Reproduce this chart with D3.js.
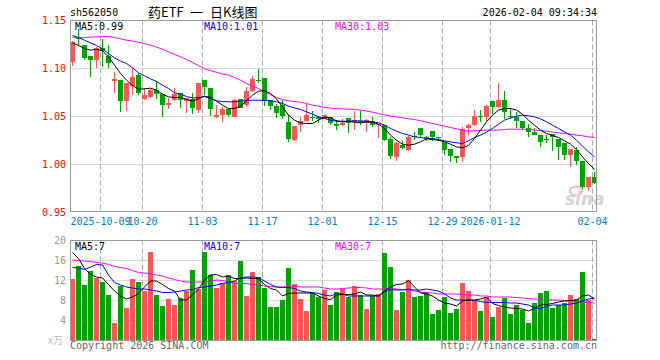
<!DOCTYPE html>
<html>
<head>
<meta charset="utf-8">
<script src="https://cdn.jsdelivr.net/npm/d3@7"></script>
<style>
  body { margin: 0; background: #fff; }
  svg { display: block; }
</style>
</head>
<body>
<div id="chart"></div>
<script>
// 日K数据 (2025-09-24 .. 2026-02-04, 88 根)
const openP = [1.107,1.132,1.124,1.113,1.109,1.121,1.113,1.087,1.088,1.066,
  1.082,1.093,1.068,1.070,1.078,1.073,1.062,1.067,1.074,1.066,
  1.068,1.057,1.088,1.080,1.050,1.052,1.058,1.050,1.068,1.062,
  1.077,1.088,1.090,1.067,1.061,1.062,1.044,1.026,1.041,1.045,
  1.050,1.050,1.047,1.050,1.042,1.041,1.048,1.044,1.045,1.043,
  1.045,1.041,1.041,1.027,1.008,1.020,1.015,1.030,1.038,1.029,
  1.035,1.029,1.023,1.016,1.009,1.008,1.038,1.041,1.051,1.049,
  1.066,1.060,1.067,1.051,1.050,1.045,1.038,1.034,1.031,1.027,
  1.032,1.027,1.022,1.010,1.015,1.004,0.977,0.987]
const highP = [1.129,1.141,1.124,1.113,1.122,1.131,1.124,1.096,1.088,1.085,
  1.099,1.095,1.080,1.079,1.087,1.073,1.069,1.080,1.074,1.069,
  1.074,1.085,1.088,1.080,1.062,1.060,1.058,1.068,1.068,1.081,
  1.092,1.099,1.090,1.067,1.063,1.067,1.052,1.040,1.050,1.063,
  1.056,1.051,1.052,1.050,1.046,1.047,1.048,1.056,1.056,1.047,
  1.050,1.042,1.041,1.029,1.023,1.025,1.030,1.034,1.038,1.030,
  1.035,1.029,1.023,1.016,1.009,1.039,1.042,1.057,1.057,1.062,
  1.066,1.085,1.077,1.059,1.055,1.045,1.042,1.038,1.031,1.031,
  1.032,1.027,1.022,1.016,1.018,1.004,0.987,0.992]
const lowP = [1.103,1.125,1.109,1.091,1.101,1.102,1.101,1.074,1.055,1.056,
  1.072,1.072,1.067,1.069,1.068,1.050,1.058,1.066,1.059,1.054,
  1.053,1.054,1.072,1.051,1.048,1.044,1.050,1.050,1.059,1.060,
  1.076,1.085,1.061,1.057,1.048,1.047,1.023,1.025,1.034,1.044,
  1.045,1.043,1.047,1.041,1.036,1.040,1.033,1.036,1.041,1.034,
  1.039,1.028,1.024,1.006,1.004,1.016,1.014,1.026,1.028,1.024,
  1.024,1.024,1.010,1.003,1.002,1.003,1.031,1.040,1.044,1.045,
  1.053,1.059,1.047,1.047,1.038,1.036,1.029,1.031,1.018,1.022,
  1.014,1.005,1.005,0.997,0.999,0.975,0.972,0.980]
const closeP = [1.128,1.131,1.111,1.109,1.121,1.118,1.106,1.089,1.066,1.085,
  1.091,1.075,1.072,1.078,1.073,1.062,1.064,1.073,1.067,1.069,
  1.059,1.085,1.081,1.058,1.052,1.058,1.052,1.067,1.059,1.077,
  1.089,1.087,1.066,1.061,1.054,1.051,1.027,1.040,1.045,1.052,
  1.049,1.047,1.052,1.043,1.040,1.043,1.043,1.046,1.044,1.046,
  1.041,1.042,1.026,1.009,1.022,1.017,1.029,1.029,1.031,1.028,
  1.029,1.028,1.015,1.009,1.007,1.037,1.041,1.051,1.050,1.061,
  1.060,1.067,1.055,1.050,1.045,1.038,1.034,1.031,1.023,1.026,
  1.029,1.018,1.010,1.016,1.004,0.977,0.987,0.981]

// 成交量 (万)
const volume = [12.3,14.9,11.1,13.9,12.5,11.7,9.1,3.5,10.9,6.5,
  12.3,11.7,9.9,17.7,9.1,6.9,8.3,7.1,8.5,9.9,
  14.1,10.3,17.7,13.2,10.5,11.5,13.1,11.9,15.9,8.9,
  13.7,12.7,10.5,6.7,6.7,8.1,14.5,11.3,8.3,5.9,
  9.5,8.8,10.1,7.1,9.7,10.4,8.7,10.9,9.2,6.3,
  8.9,9.3,17.5,14.7,6.1,9.7,12.1,8.7,9.0,9.8,
  5.3,6.1,8.7,5.5,6.3,11.5,9.9,8.1,5.9,8.7,
  4.7,6.7,8.5,5.3,7.1,6.1,3.5,7.5,9.5,9.9,
  6.5,7.1,7.5,9.1,8.3,13.7,8.1,0.3]

// 均线
const ma5 = [1.1267,1.1240,1.1208,1.1191,1.1201,1.1184,1.1122,1.1035,1.0948,1.0878,
  1.0823,1.0785,1.0788,1.0795,1.0774,1.0733,1.0705,1.0698,1.0698,1.0677,
  1.0660,1.0684,1.0712,1.0698,1.0660,1.0618,1.0583,1.0583,1.0608,1.0663,
  1.0722,1.0764,1.0767,1.0740,1.0684,1.0601,1.0514,1.0462,1.0434,1.0427,
  1.0427,1.0462,1.0493,1.0486,1.0455,1.0444,1.0448,1.0441,1.0434,1.0444,
  1.0441,1.0420,1.0375,1.0306,1.0253,1.0212,1.0201,1.0212,1.0236,1.0267,
  1.0260,1.0253,1.0236,1.0212,1.0184,1.0174,1.0198,1.0271,1.0358,1.0444,
  1.0514,1.0566,1.0583,1.0583,1.0566,1.0524,1.0462,1.0410,1.0358,1.0323,
  1.0302,1.0281,1.0247,1.0212,1.0156,1.0080,1.0010,0.9948]
const ma10 = [1.1344,1.1323,1.1295,1.1267,1.1240,1.1205,1.1156,1.1111,1.1076,1.1052,
  1.1007,1.0955,1.0924,1.0892,1.0865,1.0826,1.0792,1.0747,1.0733,1.0708,
  1.0694,1.0698,1.0708,1.0684,1.0663,1.0656,1.0653,1.0653,1.0660,1.0667,
  1.0670,1.0670,1.0667,1.0663,1.0653,1.0635,1.0608,1.0590,1.0573,1.0549,
  1.0524,1.0497,1.0479,1.0462,1.0451,1.0451,1.0451,1.0455,1.0455,1.0451,
  1.0444,1.0434,1.0410,1.0375,1.0347,1.0323,1.0306,1.0288,1.0281,1.0271,
  1.0271,1.0260,1.0247,1.0236,1.0226,1.0219,1.0247,1.0281,1.0306,1.0337,
  1.0375,1.0420,1.0462,1.0486,1.0503,1.0514,1.0507,1.0497,1.0476,1.0444,
  1.0410,1.0375,1.0340,1.0306,1.0253,1.0191,1.0132,1.0080]
const ma30 = [1.1323,1.1319,1.1323,1.1326,1.1330,1.1333,1.1333,1.1323,1.1309,1.1295,
  1.1285,1.1274,1.1260,1.1243,1.1222,1.1201,1.1174,1.1146,1.1122,1.1094,
  1.1063,1.1030,1.0997,1.0978,1.0960,1.0943,1.0931,1.0906,1.0878,1.0844,
  1.0816,1.0792,1.0760,1.0726,1.0698,1.0677,1.0663,1.0656,1.0649,1.0635,
  1.0618,1.0608,1.0594,1.0587,1.0583,1.0580,1.0576,1.0573,1.0566,1.0556,
  1.0545,1.0531,1.0517,1.0503,1.0497,1.0486,1.0476,1.0469,1.0455,1.0441,
  1.0427,1.0413,1.0399,1.0385,1.0372,1.0358,1.0347,1.0351,1.0354,1.0358,
  1.0358,1.0358,1.0365,1.0368,1.0368,1.0368,1.0365,1.0358,1.0354,1.0347,
  1.0337,1.0330,1.0323,1.0316,1.0306,1.0299,1.0288,1.0281]

const vma5 = [17.6,16.4,14.4,13.2,12.7,12.5,11.2,9.9,8.9,8.3,
  8.7,9.4,10.7,11.9,11.9,11.2,10.4,9.9,8.1,8.1,
  9.1,10.3,12.1,13.1,13.2,12.7,12.9,12.4,12.4,12.5,
  12.4,12.4,11.2,10.4,10.1,8.9,9.4,9.5,9.5,9.5,
  9.5,8.9,8.4,8.2,9.1,9.2,9.2,9.3,9.7,9.1,
  9.1,8.9,9.9,10.7,11.2,11.3,12.0,10.7,9.5,9.3,
  8.9,8.1,7.5,7.3,6.9,7.9,8.1,8.1,8.3,8.7,
  7.4,7.0,6.7,6.5,6.4,6.3,5.9,6.4,7.1,7.2,
  7.4,7.7,7.9,8.0,8.1,8.9,9.1,8.3]
const vma10 = [14.6,14.5,14.2,14.7,15.2,15.1,13.1,11.6,11.1,10.7,
  10.5,10.3,10.3,10.1,9.9,9.6,9.6,9.7,9.9,10.1,
  10.2,10.6,10.7,10.9,11.1,11.4,11.6,11.9,12.6,12.7,
  12.7,12.6,11.9,11.2,10.7,10.6,10.6,10.4,9.9,9.7,
  9.6,9.4,9.1,8.9,9.4,9.3,8.9,8.9,8.9,8.9,
  8.9,8.9,9.7,10.2,10.1,10.1,10.3,10.1,10.1,10.3,
  10.1,9.9,9.3,8.5,8.1,8.1,8.1,8.0,7.8,7.6,
  7.6,7.6,7.6,7.5,7.5,7.3,7.1,6.5,6.4,6.8,
  7.1,7.1,7.1,7.3,7.5,7.9,8.3,8.5]
const vma30 = [16.1,16.0,15.9,15.8,15.6,15.5,15.2,14.8,14.6,14.4,
  14.0,13.6,13.5,13.3,13.1,12.9,12.5,12.2,11.9,11.7,
  11.7,11.7,11.7,11.9,12.1,12.0,11.7,11.4,11.4,11.4,
  11.2,11.1,10.9,10.8,10.7,10.7,10.8,10.9,10.7,10.7,
  10.7,10.7,10.5,10.3,10.3,10.4,10.5,10.6,10.6,10.5,
  10.3,10.3,10.3,10.4,10.3,10.2,10.1,9.9,9.7,9.6,
  9.5,9.3,9.3,9.3,9.3,9.2,9.1,9.1,8.9,8.9,
  8.7,8.7,8.7,8.7,8.6,8.5,8.4,8.3,8.3,8.2,
  8.1,8.1,8.0,7.9,7.8,7.7,7.6,7.5]

// 刻度
const dateTickIndex = [5, 12, 22, 32, 42, 52, 62, 70, 87]
const dateTickLabels = ["2025-10-09", "10-20", "11-03", "11-17", "12-01", "12-15", "12-29", "2026-01-12", "02-04"]
const priceTicks = [1.15, 1.10, 1.05, 1.00, 0.95]
const volTicks = [20, 16, 12, 8, 4]
const priceLegend = ["MA5:0.99", "MA10:1.01", "MA30:1.03"]
const volLegend = ["MA5:7", "MA10:7", "MA30:7"]

const W = 660, H = 360
const FONT = "'DejaVu Sans Mono', 'Liberation Mono', monospace"
const UP = "#ff5555", DOWN = "#00a300"
const maColors = ["#000000", "#0000ff", "#ff00ff"]

const left = 70.5, right = 596.5
const mainTop = 20.5, mainBottom = 211.5
const volTop = 240.5, volBottom = 340.5

const svg = d3.select("#chart").append("svg")
  .attr("width", W).attr("height", H)
  .attr("viewBox", [0, 0, W, H])
  .style("font-family", FONT)

const x = d3.scaleLinear().domain([0, 87]).range([72.5, 594.5])
const y = d3.scaleLinear().domain([0.95, 1.15]).range([212.5, 20.5])
const yv = d3.scaleLinear().domain([0, 20]).range([340.5, 240.5])

const n = closeP.length
const idx = d3.range(n)
const isUp = i => closeP[i] > openP[i]

// 网格
function grid(g, top, bottom, yTicks, yScale) {
  g.selectAll(".hgrid").data(yTicks).join("line")
    .attr("x1", left).attr("x2", right)
    .attr("y1", d => Math.round(yScale(d) - 0.5) + 0.5)
    .attr("y2", d => Math.round(yScale(d) - 0.5) + 0.5)
    .attr("stroke", "#b0b0b0").attr("stroke-dasharray", "1,1")
  g.selectAll(".vgrid").data(dateTickIndex).join("line")
    .attr("x1", d => x(d) - 2).attr("x2", d => x(d) - 2)
    .attr("y1", top).attr("y2", bottom)
    .attr("stroke", "#aaaaaa").attr("stroke-dasharray", "5,3")
}

const gMain = svg.append("g")
grid(gMain, mainTop, mainBottom, [1.10, 1.05, 1.00], y)
const gVol = svg.append("g")
grid(gVol, volTop, volBottom, [16, 12, 8, 4], yv)

// 水印
const wm = svg.append("g").attr("opacity", 0.55)
wm.append("ellipse").attr("cx", 576).attr("cy", 191).attr("rx", 6).attr("ry", 4.5)
  .attr("fill", "none").attr("stroke", "#f08080").attr("stroke-width", 2)
wm.append("text").attr("x", 565).attr("y", 205)
  .attr("font-family", "'DejaVu Sans', sans-serif").attr("font-size", 17)
  .attr("font-weight", "bold").attr("font-style", "italic")
  .attr("fill", "#b0b0b0").text("sina")

// K线
const candles = svg.append("g").attr("shape-rendering", "crispEdges")
candles.selectAll(".wick").data(idx).join("line")
  .attr("x1", i => x(i)).attr("x2", i => x(i))
  .attr("y1", i => y(highP[i])).attr("y2", i => y(lowP[i]))
  .attr("stroke", i => isUp(i) ? UP : DOWN)
candles.selectAll(".body").data(idx).join("rect")
  .attr("x", i => x(i) - 2.5)
  .attr("width", 5)
  .attr("y", i => y(Math.max(openP[i], closeP[i])))
  .attr("height", i => Math.max(1, Math.abs(y(openP[i]) - y(closeP[i]))))
  .attr("fill", i => isUp(i) ? UP : DOWN)

// 成交量柱
svg.append("g").attr("shape-rendering", "crispEdges")
  .selectAll("rect").data(idx).join("rect")
  .attr("x", i => x(i) - 2.5)
  .attr("width", 5)
  .attr("y", i => yv(volume[i]))
  .attr("height", i => yv(0) - yv(volume[i]))
  .attr("fill", i => isUp(i) ? UP : DOWN)

// 均线
function drawLine(data, scale, color) {
  svg.append("path")
    .datum(data)
    .attr("fill", "none")
    .attr("stroke", color)
    .attr("stroke-width", 1)
    .attr("d", d3.line().x((d, i) => x(i)).y(d => scale(d)))
}
drawLine(ma30, y, maColors[2])
drawLine(ma10, y, maColors[1])
drawLine(ma5, y, maColors[0])
drawLine(vma30, yv, maColors[2])
drawLine(vma10, yv, maColors[1])
drawLine(vma5, yv, maColors[0])

// 边框
svg.append("rect").attr("x", left).attr("y", mainTop)
  .attr("width", right - left).attr("height", mainBottom - mainTop)
  .attr("fill", "none").attr("stroke", "#999")
svg.append("rect").attr("x", left).attr("y", volTop)
  .attr("width", right - left).attr("height", volBottom - volTop)
  .attr("fill", "none").attr("stroke", "#999")

// 价格轴
svg.append("g").selectAll("text").data(priceTicks).join("text")
  .attr("x", 66).attr("y", d => y(d)).attr("dy", "0.35em")
  .attr("text-anchor", "end").attr("font-size", 10).attr("fill", "#ff0000")
  .text(d => d3.format(".2f")(d))

// 成交量轴
svg.append("g").selectAll("text").data(volTicks).join("text")
  .attr("x", 66).attr("y", d => yv(d)).attr("dy", "0.35em")
  .attr("text-anchor", "end").attr("font-size", 10).attr("fill", "#999")
  .text(d => d)
svg.append("text").attr("x", 63).attr("y", yv(0)).attr("dy", "0.35em")
  .attr("text-anchor", "end").attr("font-size", 10).attr("fill", "#bbb")
  .attr("font-family", "'Noto Sans CJK SC', sans-serif")
  .text("x万")

// 日期轴
svg.append("g").selectAll("text").data(dateTickIndex).join("text")
  .attr("x", d => x(d) - 2).attr("y", 224.5)
  .attr("text-anchor", "middle").attr("font-size", 10).attr("fill", "#0080cc")
  .text((d, i) => dateTickLabels[i])

// 图例
const legendX = [75, 204, 335]
svg.append("g").selectAll("text").data(priceLegend).join("text")
  .attr("x", (d, i) => legendX[i]).attr("y", 29.5)
  .attr("font-size", 10).attr("fill", (d, i) => maColors[i])
  .text(d => d)
svg.append("g").selectAll("text").data(volLegend).join("text")
  .attr("x", (d, i) => legendX[i]).attr("y", 249.5)
  .attr("font-size", 10).attr("fill", (d, i) => maColors[i])
  .text(d => d)

// 标题
svg.append("text").attr("x", 70).attr("y", 16)
  .attr("font-size", 10).attr("fill", "#000").text("sh562050")
const title = svg.append("text").attr("y", 17)
  .attr("font-size", 13)
  .attr("font-family", "'Noto Sans CJK SC', sans-serif")
  .attr("fill", "#000")
title.append("tspan").attr("x", 148).text("药ETF")
title.append("tspan").attr("x", 190).text("一")
title.append("tspan").attr("x", 210).text("日K线图")
svg.append("text").attr("x", 597).attr("y", 16)
  .attr("text-anchor", "end").attr("font-size", 10).attr("fill", "#000")
  .text("2026-02-04 09:34:34")

// 底部
svg.append("text").attr("x", 70).attr("y", 348.5)
  .attr("font-size", 10).attr("fill", "#666").text("Copyright 2026 SINA.COM")
svg.append("text").attr("x", 597).attr("y", 348.5)
  .attr("text-anchor", "end").attr("font-size", 10).attr("fill", "#666")
  .text("http://finance.sina.com.cn")
</script>
</body>
</html>
